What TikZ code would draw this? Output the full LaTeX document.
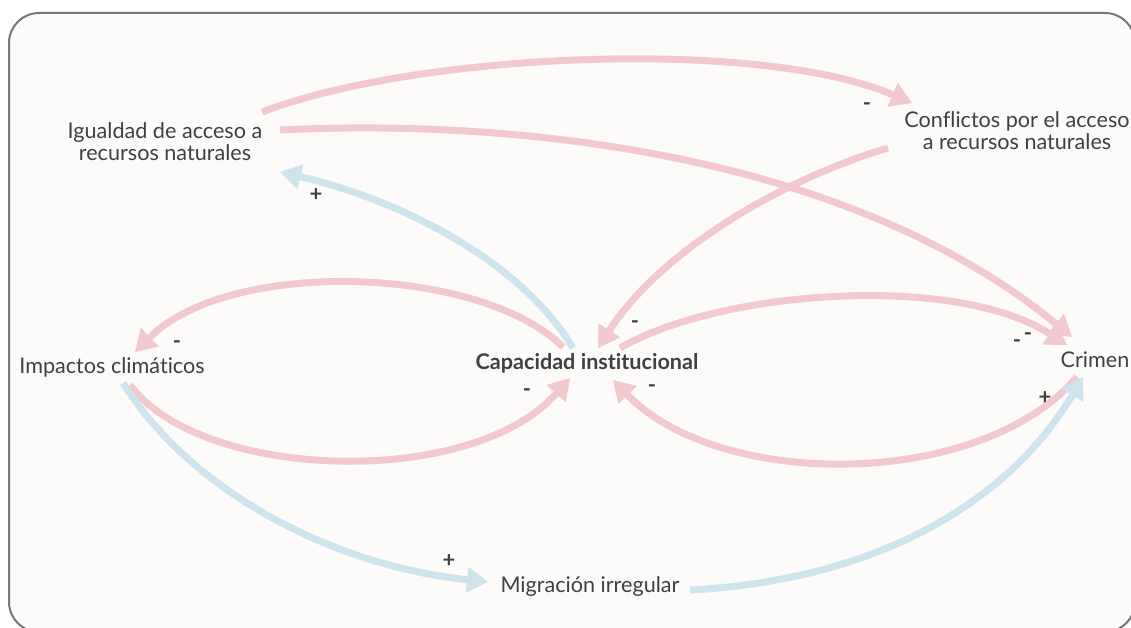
\documentclass[tikz,border=0pt]{standalone}
\usepackage{fontspec}
\setmainfont{Lato}[Ligatures={NoCommon}]
\usetikzlibrary{arrows.meta}
\definecolor{pk}{HTML}{F2C9CE}
\definecolor{bl}{HTML}{CFE3EC}
\definecolor{txt}{HTML}{404040}
\definecolor{bgc}{HTML}{FCFBF9}
\definecolor{framecol}{HTML}{777777}
\begin{document}
\begin{tikzpicture}[x=1pt,y=-1pt,
  lbl/.style={font=\fontsize{21.6}{22}\selectfont, text=txt, align=center, inner sep=0pt},
  sgn/.style={font=\fontsize{22}{22}\selectfont\bfseries, text=txt, inner sep=0pt},
  link/.style={line width=7pt, -{Triangle[length=21pt,width=26pt,line width=0pt]}},
  neglink/.style={link, draw=pk},
  poslink/.style={link, draw=bl}]
\useasboundingbox (0,0) rectangle (1131,628);
\fill[white] (0,0) rectangle (1131,628);
\draw[draw=framecol, fill=bgc, line width=2pt, rounded corners=30pt] (9,13) rectangle (1135,632);

\node[lbl] (ig) at (165,142) {Igualdad de acceso a\\recursos naturales};
\node[lbl] (co) at (1017,131) {Conflictos por el acceso\\a recursos naturales};
\node[lbl] (im) at (112,367) {Impactos climáticos};
\node[lbl, font=\fontsize{21.6}{22}\selectfont\bfseries] (cap) at (587,363) {Capacidad institucional};
\node[lbl] (cr) at (1095,360) {Crimen};
\node[lbl] (mi) at (590,587) {Migración irregular};

% negative (pink) links
\draw[neglink] ([shift={(97,-30)}]ig.center) .. controls +(158,-60) and +(-152,-65) .. ([shift={(-105,-28)}]co.center);
\draw[neglink] ([shift={(115,-12)}]ig.center) .. controls +(240,-12) and +(-222,-182) .. ([shift={(-23,-23)}]cr.center);
\draw[neglink] ([shift={(-129,17)}]co.center) .. controls +(-108,32) and +(62,-96) .. ([shift={(11,-15)}]cap.center);
\draw[neglink] ([shift={(33,-15)}]cap.center) .. controls +(100,-58) and +(-112,-72) .. ([shift={(-28,-15)}]cr.center);
\draw[neglink] ([shift={(-18,17)}]cr.center) .. controls +(-97,113) and +(107,110) .. ([shift={(26,17)}]cap.center);
\draw[neglink] ([shift={(-24,-16)}]cap.center) .. controls +(-83,-82) and +(95,-94) .. ([shift={(23,-15)}]im.center);
\draw[neglink] ([shift={(18,18)}]im.center) .. controls +(70,95) and +(-100,112) .. ([shift={(-17,15)}]cap.center);

% positive (blue) links
\draw[poslink] ([shift={(-14,-15)}]cap.center) .. controls +(-53,-88) and +(120,28) .. ([shift={(115,30)}]ig.center);
\draw[poslink] ([shift={(11,16)}]im.center) .. controls +(67,107) and +(-158,-17) .. ([shift={(-102,-5)}]mi.center);
\draw[poslink] ([shift={(100,3)}]mi.center) .. controls +(190,-10) and +(-73,123) .. ([shift={(-12,17)}]cr.center);

% polarity signs
\node[sgn] (s1) at (867,107) {-};
\node[sgn] (s2) at (1028,337) {-};
\node[sgn] (s3) at (1017,344) {-};
\node[sgn] (s4) at (635,325) {-};
\node[sgn] (s5) at (652,389) {-};
\node[sgn] (s6) at (177,345) {-};
\node[sgn] (s7) at (527,393) {-};
\node[sgn] (s8) at (316,195) {+};
\node[sgn] (s9) at (449,561) {+};
\node[sgn] (s10) at (1045,398) {+};
\end{tikzpicture}
\end{document}
